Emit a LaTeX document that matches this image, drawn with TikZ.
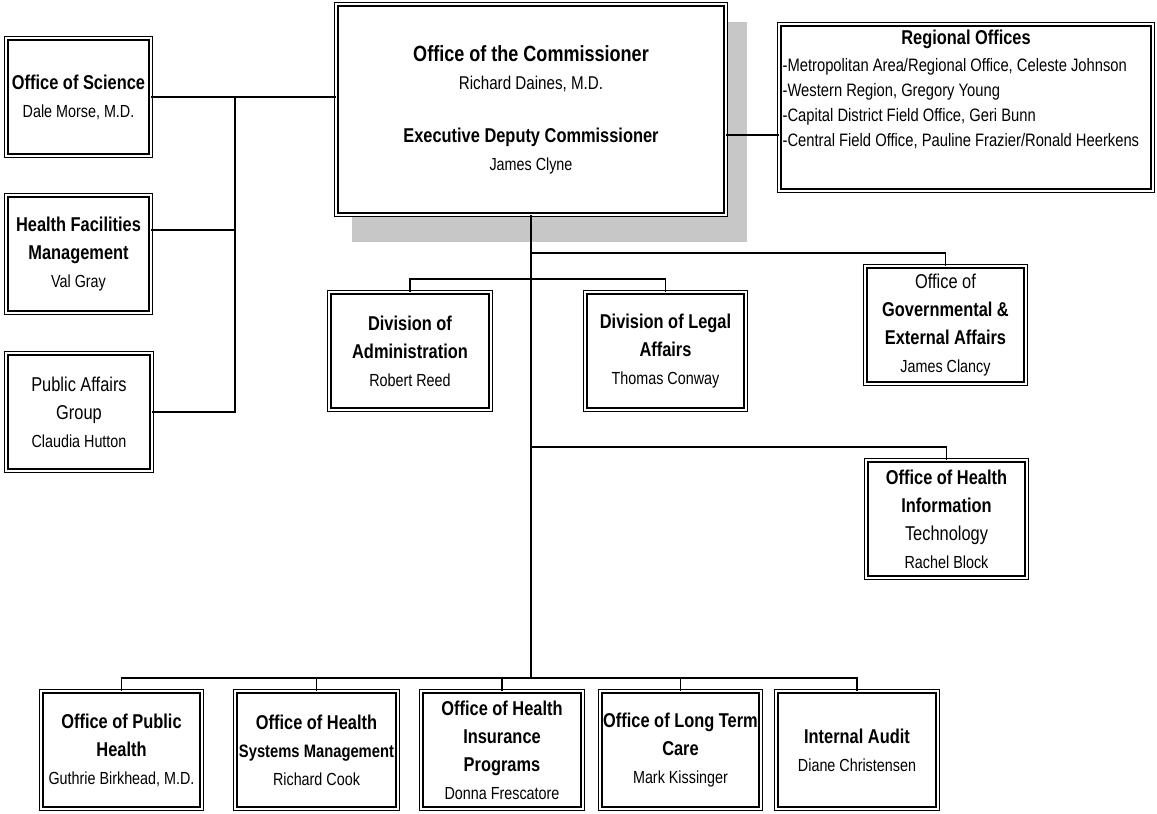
\documentclass[tikz,border=0pt]{standalone}
\usepackage{fontspec}
\setmainfont{Liberation Sans}[FakeStretch=0.82]
\newcommand{\hd}[1]{{\fontsize{20}{28}\selectfont\bfseries #1}}
\newcommand{\hr}[1]{{\fontsize{20}{28}\selectfont #1}}

\begin{document}
\begin{tikzpicture}[x=1pt, y=-1pt, line width=1.2pt,
    unit/.style={draw, double, double distance=2pt, line width=1.3pt, fill=white,
      align=center, inner sep=1pt, minimum width=160.4pt, minimum height=117.4pt,
      font=\fontsize{17.5}{28}\selectfont}]
    \useasboundingbox (0,0) rectangle (1157,814);

    % top: commissioner with its shadow, regional offices
    \fill[black!22] (352,22) rectangle (747,242);
    \node[unit, minimum width=389.4pt, minimum height=210.4pt] (comm) at (531,109.5)
      {{\fontsize{22}{28}\selectfont\bfseries Office of the Commissioner}\\
       {\fontsize{18.5}{28}\selectfont Richard Daines, M.D.}\\[25pt]
       \hd{Executive Deputy Commissioner}\\ James Clyne};
    \node[unit, minimum width=373.4pt, minimum height=166.4pt] (reg) at (966,107.5) {};
    \node[font=\fontsize{20}{25}\selectfont\bfseries] (regtitle) at (966,39) {Regional Offices};
    \node[anchor=north west, align=left, inner sep=0pt, font=\fontsize{18}{25}\selectfont]
      (reglist) at (782,58)
      {-Metropolitan Area/Regional Office, Celeste Johnson\\
       -Western Region, Gregory Young\\
       -Capital District Field Office, Geri Bunn\\
       -Central Field Office, Pauline Frazier/Ronald Heerkens};

    % left column
    \node[unit, minimum width=144.4pt] (sci) at (78.5,97) {\hd{Office of Science}\\ Dale Morse, M.D.};
    \node[unit, minimum width=144.4pt] (hfm) at (78.5,254)
      {\hd{Health Facilities}\\ \hd{Management}\\ Val Gray};
    \node[unit, minimum width=145.4pt] (pag) at (79,412)
      {\hr{Public Affairs}\\ \hr{Group}\\ Claudia Hutton};

    % middle row
    \node[unit, minimum width=161.4pt] (adm) at (410,351)
      {\hd{Division of}\\ \hd{Administration}\\ Robert Reed};
    \node[unit] (leg) at (665.5,351) {\hd{Division of Legal}\\ \hd{Affairs}\\ Thomas Conway};
    \node[unit] (gov) at (945.5,325)
      {\hr{Office of}\\ \hd{Governmental \&}\\ \hd{External Affairs}\\ James Clancy};
    \node[unit] (hit) at (946.5,519)
      {\hd{Office of Health}\\ \hd{Information}\\ \hr{Technology}\\ Rachel Block};

    % bottom row
    \node[unit] (oph) at (121.5,750) {\hd{Office of Public}\\ \hd{Health}\\ Guthrie Birkhead, M.D.};
    \node[unit, minimum width=162.4pt] (hsm) at (316.5,750)
      {\hd{Office of Health}\\ {\fontsize{18}{28}\selectfont\bfseries Systems Management}\\ Richard Cook};
    \node[unit, minimum width=161.4pt] (hip) at (502,750)
      {\hd{Office of Health}\\ \hd{Insurance}\\ \hd{Programs}\\ Donna Frescatore};
    \node[unit] (ltc) at (680.5,750) {\hd{Office of Long Term}\\ \hd{Care}\\ Mark Kissinger};
    \node[unit, minimum width=161.4pt] (ia) at (857,750) {\hd{Internal Audit}\\ Diane Christensen};

    % connectors
    \coordinate (lbus) at (235,97);
    \coordinate (bbus) at (0,678);
    \draw (sci.east) -- (comm.west |- sci.east);
    \draw (lbus) |- (pag.east);
    \draw ([yshift=24pt]hfm.east) -| (lbus);
    \draw (comm.east |- 0,135) -- (reg.west |- 0,135);
    \draw (comm.south) -- (comm.south |- bbus);
    \draw (comm.south |- 0,253) -| (gov.north);
    \draw (comm.south |- 0,447) -| (hit.north);
    \draw (adm.north) |- (leg.north |- 0,279) -- (leg.north);
    \draw (oph.north) |- (ia.north |- bbus) -- (ia.north);
    \foreach \n in {hsm,hip,ltc} { \draw (\n.north) -- (\n.north |- bbus); }
  \end{tikzpicture}
\end{document}
